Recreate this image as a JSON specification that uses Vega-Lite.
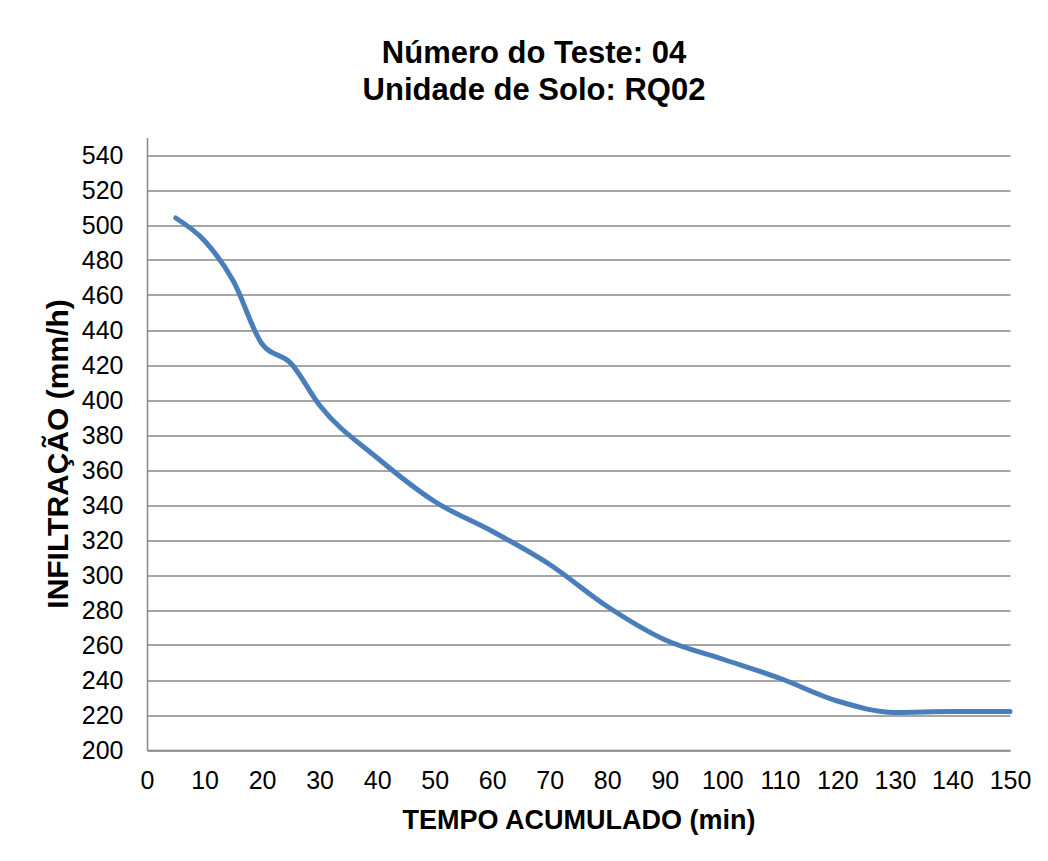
{
  "$schema": "https://vega.github.io/schema/vega-lite/v6.json",
  "autosize": "none",
  "width": 863,
  "height": 612.5,
  "padding": {"left": 147, "top": 137.5, "right": 38, "bottom": 111},
  "background": "white",
  "title": {
    "text": ["Número do Teste: 04", "Unidade de Solo: RQ02"],
    "font": "Liberation Sans",
    "fontSize": 31,
    "fontWeight": "bold",
    "color": "#000000",
    "lineHeight": 37,
    "anchor": "middle",
    "dx": -44.5,
    "offset": 31
  },
  "data": {
    "values": [
      {"t": 5, "v": 504},
      {"t": 10, "v": 491},
      {"t": 15, "v": 468},
      {"t": 20, "v": 432},
      {"t": 25, "v": 421},
      {"t": 30, "v": 397},
      {"t": 40, "v": 367},
      {"t": 50, "v": 342},
      {"t": 60, "v": 325},
      {"t": 70, "v": 306},
      {"t": 80, "v": 282},
      {"t": 90, "v": 263},
      {"t": 100, "v": 252},
      {"t": 110, "v": 241},
      {"t": 120, "v": 228},
      {"t": 130, "v": 221.5},
      {"t": 140, "v": 222},
      {"t": 150, "v": 222}
    ]
  },
  "mark": {"type": "line", "interpolate": "monotone", "color": "#4a7ebb", "strokeWidth": 5, "strokeCap": "round"},
  "encoding": {
    "x": {
      "field": "t",
      "type": "quantitative",
      "scale": {"domain": [0, 150], "nice": false, "zero": false},
      "axis": {
        "values": [0, 10, 20, 30, 40, 50, 60, 70, 80, 90, 100, 110, 120, 130, 140, 150],
        "title": "TEMPO ACUMULADO (min)",
        "grid": false,
        "ticks": false,
        "domainColor": "#898989",
        "domainWidth": 1.5,
        "labelFont": "Liberation Sans",
        "labelFontSize": 25,
        "labelColor": "#000000",
        "labelPadding": 18,
        "labelFlush": false,
        "titleFont": "Liberation Sans",
        "titleFontSize": 27,
        "titleFontWeight": "bold",
        "titleColor": "#000000",
        "titlePadding": 14
      }
    },
    "y": {
      "field": "v",
      "type": "quantitative",
      "scale": {"domain": [200, 550], "nice": false, "zero": false},
      "axis": {
        "values": [200, 220, 240, 260, 280, 300, 320, 340, 360, 380, 400, 420, 440, 460, 480, 500, 520, 540],
        "title": "INFILTRAÇÃO (mm/h)",
        "grid": true,
        "gridColor": "#898989",
        "gridWidth": 1.5,
        "ticks": false,
        "domainColor": "#898989",
        "domainWidth": 1.5,
        "labelFont": "Liberation Sans",
        "labelFontSize": 25,
        "labelColor": "#000000",
        "labelPadding": 24,
        "labelFlush": false,
        "titleFont": "Liberation Sans",
        "titleFontSize": 30,
        "titleFontWeight": "bold",
        "titleColor": "#000000",
        "titlePadding": 8,
        "titleY": 316
      }
    }
  },
  "config": {"view": {"stroke": null}}
}
